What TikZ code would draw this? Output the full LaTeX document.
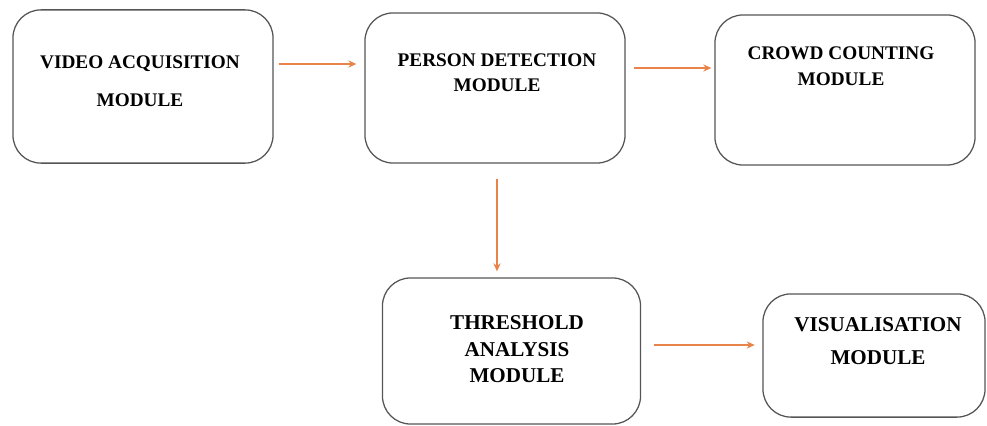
\documentclass[tikz,border=0pt]{standalone}
\usepackage{fontspec}
\setmainfont{Liberation Serif}
\usetikzlibrary{
  positioning,
  arrows.meta
}
\definecolor{cdOrange}{HTML}{E8834A}
\definecolor{cdGray}{HTML}{555555}

\begin{document}
\begin{tikzpicture}[
  x=0.025cm, y=-0.025cm,
  every node/.style={align=center},
  module/.style={
    rectangle, rounded corners=0.7cm,
    draw=cdGray, line width=0.9pt, inner sep=0pt
  },
  modtext/.style={font=\bfseries\fontsize{13.7}{#1}\selectfont, inner sep=0pt},
  modtext/.default=18,
  arrow/.style={-{Stealth[length=2mm, width=1.8mm]}, draw=cdOrange, line width=0.9pt}
]
 \useasboundingbox (0,0) rectangle (987,426);

 % Top row -- 3 modules
 \node[module, minimum width=6.5cm, minimum height=3.83cm]  (va) at (143,86.5) {};
 \node[module, minimum width=6.5cm, minimum height=3.75cm]  (pd) at (495,88) {};
 \node[module, minimum width=6.5cm, minimum height=3.75cm]  (cc) at (845,90) {};

 \node[modtext=27] (vat) at (140,81)   {VIDEO ACQUISITION\\MODULE};
 \node[modtext=17.8] (pdt) at (497,72.5) {PERSON DETECTION\\MODULE};
 \node[modtext=18.5] (cct) at (841,66.5) {CROWD COUNTING\\MODULE};

 % Bottom row -- 2 modules
 \node[module, minimum width=6.45cm, minimum height=3.65cm] (ta) at (511.5,351) {};
 \node[module, minimum width=5.55cm, minimum height=3.08cm] (vm) at (874,355.5) {};

 \node[modtext, font=\bfseries\fontsize{15}{18.8}\selectfont] (tat) at (517,349.5) {THRESHOLD\\ANALYSIS\\MODULE};
 \node[modtext, font=\bfseries\fontsize{15}{23.4}\selectfont] (vmt) at (878,341.5) {VISUALISATION\\MODULE};

 % Connectors
 \draw[arrow, shorten <=0.125cm, shorten >=0.2cm]
   ([yshift=0.5625cm]va.east) -- ([yshift=0.5625cm]va.east -| pd.west);
 \draw[arrow, shorten <=0.2cm, shorten >=0.075cm]
   ([yshift=0.5cm]pd.east) -- ([yshift=0.5cm]pd.east -| cc.west);
 \draw[arrow, shorten <=0.375cm, shorten >=0.15cm]
   ([xshift=0.05cm]pd.south) -- ([xshift=0.05cm]pd.south |- ta.north);
 \draw[arrow, shorten <=0.325cm, shorten >=0.19cm]
   ([yshift=0.15cm]ta.east) -- ([yshift=0.15cm]ta.east -| vm.west);
\end{tikzpicture}
\end{document}
